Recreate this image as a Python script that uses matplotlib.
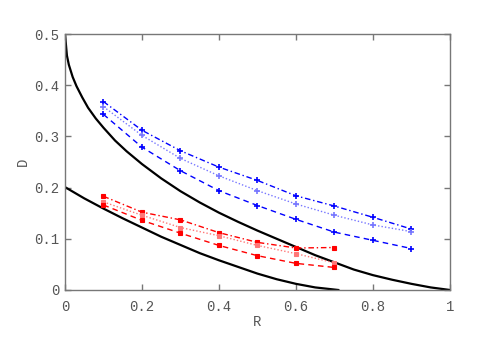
import matplotlib
matplotlib.use('Agg')
import matplotlib.pyplot as plt

# bound curves
upper_r = [0.0, 0.005, 0.01, 0.02, 0.03, 0.045, 0.06, 0.08, 0.1, 0.13, 0.16,
           0.2, 0.25, 0.3, 0.35, 0.4, 0.45, 0.5, 0.55, 0.6, 0.65, 0.7, 0.75,
           0.8, 0.85, 0.9, 0.95, 1.0]
upper_d = [0.5, 0.458, 0.440, 0.416, 0.398, 0.376, 0.356, 0.335, 0.317, 0.292,
           0.271, 0.246, 0.218, 0.193, 0.171, 0.151, 0.133, 0.116, 0.100, 0.084,
           0.068, 0.054, 0.040, 0.029, 0.020, 0.012, 0.005, 0.0]
lower_r = [0.0, 0.05, 0.1, 0.15, 0.2, 0.25, 0.3, 0.35, 0.4, 0.45, 0.5, 0.55,
           0.6, 0.65, 0.71]
lower_d = [0.201, 0.179, 0.159, 0.140, 0.122, 0.104, 0.088, 0.072, 0.058,
           0.045, 0.032, 0.021, 0.012, 0.005, 0.0]

# blue series
blue_r = [0.1, 0.2, 0.3, 0.4, 0.5, 0.6, 0.7, 0.8, 0.9]
blue_dashdot = [0.368, 0.312, 0.272, 0.240, 0.214, 0.184, 0.164, 0.142, 0.119]
blue_dotted = [0.358, 0.302, 0.257, 0.223, 0.194, 0.168, 0.146, 0.127, 0.114]
blue_dashed = [0.343, 0.279, 0.233, 0.194, 0.165, 0.138, 0.113, 0.097, 0.081]

# red series
red_r = [0.1, 0.2, 0.3, 0.4, 0.5, 0.6, 0.7]
red_dashdot = [0.183, 0.152, 0.137, 0.112, 0.093, 0.082, 0.083]
red_dotted = [0.172, 0.146, 0.122, 0.106, 0.087, 0.071, 0.053]
red_dashed = [0.166, 0.136, 0.111, 0.087, 0.067, 0.052, 0.044]

x_ticks = [0, 0.2, 0.4, 0.6, 0.8, 1]
x_labels = ['0', '0.2', '0.4', '0.6', '0.8', '1']
y_ticks = [0, 0.1, 0.2, 0.3, 0.4, 0.5]
y_labels = ['0', '0.1', '0.2', '0.3', '0.4', '0.5']

plt.rcParams['font.family'] = ['Liberation Mono', 'DejaVu Sans Mono']
plt.rcParams['font.size'] = 10

fig = plt.figure(figsize=(4.98, 3.37), dpi=100)
ax = fig.add_axes([0.1305, 0.1395, 0.773, 0.7595])

ax.plot(upper_r, upper_d, color='black', lw=1.6)
ax.plot(lower_r, lower_d, color='black', lw=1.6)

dashdot = (0, (4, 2, 1, 2))
dashed = (0, (4, 3))
dotted = (0, (1, 1.5))

ax.plot(blue_r, blue_dashdot, color='blue', ls=dashdot, lw=1, marker='+', ms=4, mew=1.2)
ax.plot(blue_r, blue_dotted, color='#7777ff', ls=dotted, lw=1, marker='+', ms=4, mew=1.2)
ax.plot(blue_r, blue_dashed, color='blue', ls=dashed, lw=1, marker='+', ms=4, mew=1.2)

ax.plot(red_r, red_dashdot, color='red', ls=dashdot, lw=1, marker='s', ms=2.5, mew=0.8)
ax.plot(red_r, red_dotted, color='#ff7777', ls=dotted, lw=1, marker='s', ms=2.5, mew=0.8)
ax.plot(red_r, red_dashed, color='red', ls=dashed, lw=1, marker='s', ms=2.5, mew=0.8)

ax.set_xlim(0, 1)
ax.set_ylim(0, 0.5)
ax.set_xticks(x_ticks)
ax.set_xticklabels(x_labels)
ax.set_yticks(y_ticks)
ax.set_yticklabels(y_labels)

grey = '#777777'
for s in ax.spines.values():
    s.set_color(grey)
    s.set_linewidth(1)
ax.tick_params(direction='in', length=4, width=1, color=grey, labelcolor='#555555',
               top=True, right=True)
ax.tick_params(axis='x', pad=7)
ax.tick_params(axis='y', pad=4)

ax.set_xlabel('R', color='#555555', labelpad=1)
ax.set_ylabel('D', color='#555555', labelpad=3)

fig.savefig('out.png', dpi=100)
